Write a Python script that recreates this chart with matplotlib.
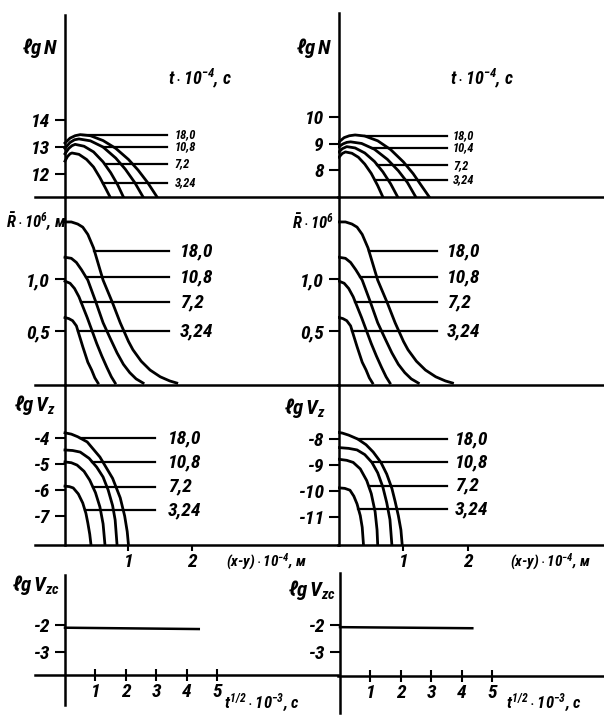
import numpy as np
import matplotlib
matplotlib.use("Agg")
import matplotlib.pyplot as plt
from matplotlib import font_manager


def pick_font(names):
    # take the first narrow family that is actually installed
    for n in names:
        try:
            font_manager.findfont(font_manager.FontProperties(family=n),
                                  fallback_to_default=False)
            return n
        except ValueError:
            continue
    return 'DejaVu Sans'


FONT = pick_font(['Liberation Sans Narrow', 'DejaVu Sans Condensed',
                  'Roboto Condensed', 'DejaVu Sans'])
plt.rcParams['font.family'] = [FONT, 'DejaVu Sans']
plt.rcParams['font.weight'] = 'bold'
plt.rcParams['font.style'] = 'italic'
plt.rcParams['mathtext.fontset'] = 'custom'
plt.rcParams['mathtext.rm'] = FONT + ':bold:italic'
plt.rcParams['mathtext.it'] = FONT + ':bold:italic'
plt.rcParams['mathtext.bf'] = FONT + ':bold:italic'

W, H = 604, 717

# time marks, t*10^-4 s
times = ["18,0", "10,8", "7,2", "3,24"]
times_nr = ["18,0", "10,4", "7,2", "3,24"]

# lg N vs (x-y)*10^-4 m
lgN_a_x = [[0, 0.08, 0.16, 0.24, 0.4, 0.6, 0.8, 1.0, 1.15, 1.3, 1.45],
           [0, 0.08, 0.15, 0.22, 0.4, 0.6, 0.8, 0.95, 1.1, 1.23],
           [0, 0.06, 0.11, 0.16, 0.3, 0.45, 0.6, 0.72, 0.83, 0.92],
           [0, 0.04, 0.08, 0.11, 0.22, 0.34, 0.45, 0.55, 0.64, 0.71]]
lgN_a_y = [[13.15, 13.33, 13.42, 13.46, 13.42, 13.24, 12.95, 12.54, 12.15, 11.69, 11.15],
           [12.95, 13.17, 13.27, 13.30, 13.23, 13.0, 12.59, 12.18, 11.68, 11.15],
           [12.75, 12.95, 13.05, 13.10, 13.03, 12.82, 12.45, 12.05, 11.6, 11.15],
           [12.48, 12.65, 12.75, 12.78, 12.73, 12.54, 12.26, 11.87, 11.47, 11.15]]
lgN_a_lead = [13.45, 13.0, 12.37, 11.67]

lgN_b_x = [[0, 0.08, 0.16, 0.25, 0.4, 0.6, 0.8, 1.0, 1.15, 1.28, 1.40],
           [0, 0.06, 0.12, 0.18, 0.35, 0.55, 0.75, 0.92, 1.06, 1.19],
           [0, 0.05, 0.12, 0.25, 0.4, 0.55, 0.68, 0.8, 0.91],
           [0, 0.05, 0.1, 0.2, 0.3, 0.4, 0.5, 0.6, 0.68]]
lgN_b_y = [[9.08, 9.24, 9.31, 9.34, 9.30, 9.12, 8.79, 8.32, 7.88, 7.42, 7.0],
           [8.9, 9.0, 9.06, 9.08, 9.02, 8.80, 8.42, 7.99, 7.55, 7.0],
           [8.7, 8.82, 8.9, 8.85, 8.66, 8.34, 7.95, 7.5, 7.0],
           [8.5, 8.64, 8.7, 8.65, 8.5, 8.24, 7.89, 7.43, 7.0]]
lgN_b_lead = [9.3, 8.85, 8.2, 7.64]

# mean radius R*10^6 m
R_a_x = [[0, 0.1, 0.2, 0.28, 0.36, 0.45, 0.6, 0.75, 0.87, 1.0, 1.07, 1.2, 1.34, 1.5, 1.65, 1.76],
         [0, 0.1, 0.18, 0.26, 0.36, 0.48, 0.6, 0.72, 0.82, 0.92, 1.02, 1.12, 1.23],
         [0, 0.08, 0.15, 0.22, 0.35, 0.5, 0.58, 0.66, 0.73, 0.79],
         [0, 0.06, 0.12, 0.18, 0.28, 0.36, 0.42, 0.47, 0.52]]
R_a_y = [[1.55, 1.55, 1.53, 1.5, 1.43, 1.3, 0.99, 0.77, 0.58, 0.40, 0.32, 0.21, 0.125, 0.06, 0.02, 0.0],
         [1.21, 1.2, 1.16, 1.09, 0.99, 0.79, 0.58, 0.42, 0.29, 0.18, 0.1, 0.04, 0.0],
         [0.98, 0.96, 0.91, 0.83, 0.63, 0.38, 0.26, 0.15, 0.06, 0.0],
         [0.63, 0.62, 0.6, 0.55, 0.35, 0.2, 0.125, 0.05, 0.0]]
R_a_lead = [1.27, 1.02, 0.78, 0.5]

R_b_x = [[0, 0.1, 0.2, 0.28, 0.36, 0.45, 0.6, 0.75, 0.87, 1.0, 1.07, 1.2, 1.34, 1.5, 1.65, 1.76],
         [0, 0.1, 0.18, 0.26, 0.36, 0.48, 0.6, 0.72, 0.82, 0.92, 1.02, 1.12, 1.23],
         [0, 0.08, 0.15, 0.22, 0.35, 0.5, 0.58, 0.66, 0.73, 0.79],
         [0, 0.06, 0.12, 0.18, 0.28, 0.36, 0.42, 0.47, 0.52]]
R_b_y = [[1.55, 1.55, 1.53, 1.5, 1.43, 1.3, 0.99, 0.77, 0.58, 0.40, 0.32, 0.21, 0.125, 0.06, 0.02, 0.0],
         [1.21, 1.2, 1.16, 1.09, 0.99, 0.79, 0.58, 0.42, 0.29, 0.18, 0.1, 0.04, 0.0],
         [0.98, 0.96, 0.91, 0.83, 0.63, 0.38, 0.26, 0.15, 0.06, 0.0],
         [0.63, 0.62, 0.6, 0.55, 0.35, 0.2, 0.125, 0.05, 0.0]]
R_b_lead = [1.27, 1.02, 0.78, 0.5]

# lg V_z
Vz_a_x = [[0, 0.1, 0.2, 0.35, 0.55, 0.75, 0.87, 0.94, 0.98, 1.0],
          [0, 0.12, 0.24, 0.38, 0.5, 0.6, 0.68, 0.75, 0.79, 0.82],
          [0, 0.1, 0.19, 0.3, 0.39, 0.48, 0.55, 0.6, 0.63],
          [0, 0.07, 0.13, 0.21, 0.28, 0.33, 0.36, 0.39, 0.41]]
Vz_a_y = [[-3.8, -3.85, -3.95, -4.15, -4.73, -5.55, -6.3, -7.0, -7.6, -8.115],
          [-4.46, -4.48, -4.54, -4.78, -5.12, -5.5, -6.0, -6.6, -7.15, -8.115],
          [-4.92, -4.95, -5.04, -5.28, -5.62, -6.1, -6.65, -7.3, -8.115],
          [-5.85, -5.87, -5.92, -6.15, -6.5, -6.9, -7.27, -7.7, -8.115]]
Vz_a_lead = [-4.0, -4.92, -5.88, -6.77]

Vz_b_x = [[0, 0.05, 0.15, 0.29, 0.42, 0.53, 0.65, 0.74, 0.82, 0.87, 0.92, 0.96, 0.98],
          [0, 0.15, 0.28, 0.4, 0.51, 0.6, 0.68, 0.74, 0.79, 0.82],
          [0, 0.12, 0.22, 0.33, 0.43, 0.5, 0.56, 0.59, 0.6],
          [0, 0.09, 0.17, 0.23, 0.28, 0.33, 0.36, 0.38]]
Vz_b_y = [[-7.75, -7.77, -7.85, -8.0, -8.22, -8.5, -8.9, -9.35, -9.9, -10.4, -10.95, -11.5, -12.08],
          [-8.33, -8.36, -8.42, -8.6, -8.9, -9.3, -9.85, -10.45, -11.1, -12.08],
          [-8.78, -8.82, -8.9, -9.15, -9.6, -10.1, -10.8, -11.5, -12.08],
          [-9.88, -9.9, -9.97, -10.2, -10.5, -10.95, -11.4, -12.08]]
Vz_b_lead = [-8.0, -8.9, -9.8, -10.7]

# lg V_zc vs t^1/2 * 10^-3
tsq_a = [0, 4.4]
Vzc_a = [-2.1, -2.15]
tsq_b = [0, 4.35]
Vzc_b = [-2.08, -2.12]

fig = plt.figure(figsize=(W / 100, H / 100), dpi=100)


def add_axes(x0, y0, x1, y1, xlim, ylim, xaxis_at=None):
    ax = fig.add_axes([x0 / W, 1 - y1 / H, (x1 - x0) / W, (y1 - y0) / H])
    ax.set_xlim(*xlim)
    ax.set_ylim(*ylim)
    for s in ('top', 'right'):
        ax.spines[s].set_visible(False)
    ax.spines['left'].set_position(('data', 0))
    if xaxis_at is not None:
        ax.spines['bottom'].set_position(('data', xaxis_at))
    for s in ('left', 'bottom'):
        ax.spines[s].set_linewidth(1.8)
    ax.patch.set_visible(False)
    ax.set_xticks([])
    ax.tick_params(axis='y', direction='out', length=7, width=1.5,
                   labelsize=14, pad=4)
    return ax


def draw_curves(ax, xs, ys, leads, lead_end, label_x, labels, fs=14):
    for cx, cy, lv, lab in zip(xs, ys, leads, labels):
        cx = np.asarray(cx)
        cy = np.asarray(cy)
        ax.plot(cx, cy, color='k', lw=2.0, solid_joinstyle='round')
        k = int(np.argmax(cy))
        dx, dy = cx[k:], cy[k:]
        if lv >= dy[0]:
            x_start = dx[0]
        else:
            x_start = np.interp(lv, dy[::-1], dx[::-1])
        ax.plot([x_start, lead_end], [lv, lv], color='k', lw=1.6)
        ax.text(label_x, lv, lab, fontsize=fs, va='center', ha='left')


def ylabels(ax, ticks, labels):
    ax.set_yticks(ticks)
    ax.set_yticklabels(labels)


def xlabels(ax, ticks, labels, direction, length):
    ax.set_xticks(ticks)
    ax.set_xticklabels(labels)
    ax.tick_params(axis='x', direction=direction, length=length, width=1.5,
                   labelsize=14, pad=2)


def label(x, y, s, size=14):
    fig.text(x / W, 1 - y / H, s, fontsize=size, va='center', ha='left')


# row 1: lg N
ax = add_axes(35, 15, 338, 197, (-0.472, 4.299), (11.15, 17.89))
ylabels(ax, [12, 13, 14], ["12", "13", "14"])
draw_curves(ax, lgN_a_x, lgN_a_y, lgN_a_lead, 1.61, 1.73, times, fs=9)
ax = add_axes(338, 13, 604, 197, (-0.0155, 4.109), (7.0, 13.94))
ylabels(ax, [8, 9, 10], ["8", "9", "10"])
draw_curves(ax, lgN_b_x, lgN_b_y, lgN_b_lead, 1.67, 1.77, times_nr, fs=9)

# row 2: R
ax = add_axes(35, 197, 338, 385, (-0.472, 4.299), (-0.019, 1.79))
ylabels(ax, [0.5, 1.0], ["0,5", "1,0"])
draw_curves(ax, R_a_x, R_a_y, R_a_lead, 1.64, 1.81, times)
ax = add_axes(338, 197, 604, 385, (-0.0155, 4.109), (-0.019, 1.79))
ylabels(ax, [0.5, 1.0], ["0,5", "1,0"])
draw_curves(ax, R_b_x, R_b_y, R_b_lead, 1.52, 1.67, times)

# row 3: lg V_z
ax = add_axes(35, 385, 338, 545, (-0.472, 4.299), (-8.115, -1.96))
ylabels(ax, [-7, -6, -5, -4], ["-7", "-6", "-5", "-4"])
draw_curves(ax, Vz_a_x, Vz_a_y, Vz_a_lead, 1.42, 1.62, times)
xlabels(ax, [1, 2], ["1", "2"], 'out', 4)
ax = add_axes(338, 385, 604, 545, (-0.0155, 4.109), (-12.08, -5.92))
ylabels(ax, [-11, -10, -9, -8], ["-11", "-10", "-9", "-8"])
draw_curves(ax, Vz_b_x, Vz_b_y, Vz_b_lead, 1.67, 1.8, times)
xlabels(ax, [1, 2], ["1", "2"], 'out', 4)

# row 4: lg V_zc
ax = add_axes(35, 575, 338, 705, (-0.987, 8.98), (-4.96, -0.15), xaxis_at=-3.85)
ylabels(ax, [-3, -2], ["-3", "-2"])
ax.plot(tsq_a, Vzc_a, color='k', lw=1.8)
xlabels(ax, [1, 2, 3, 4, 5], ["1", "2", "3", "4", "5"], 'inout', 8)
ax = add_axes(338, 573, 604, 713, (-0.066, 8.68), (-5.26, -0.074), xaxis_at=-3.89)
ylabels(ax, [-3, -2], ["-3", "-2"])
ax.plot(tsq_b, Vzc_b, color='k', lw=1.8)
xlabels(ax, [1, 2, 3, 4, 5], ["1", "2", "3", "4", "5"], 'inout', 8)

# axis captions
label(22, 48, r"$\ell g\,N$", 15)
label(296, 48, r"$\ell g\,N$", 15)
label(168, 78, r"$t\cdot10^{-4}$, с", 13)
label(450, 78, r"$t\cdot10^{-4}$, с", 13)
label(6, 222, r"$\bar{R}\cdot10^{6}$, м", 12)
label(292, 222, r"$\bar{R}\cdot10^{6}$", 12)
label(14, 405, r"$\ell g\,V_z$", 15)
label(284, 408, r"$\ell g\,V_z$", 15)
label(226, 562, r"$(x$-$y)\cdot10^{-4}$, м", 11)
label(510, 562, r"$(x$-$y)\cdot10^{-4}$, м", 11)
label(12, 585, r"$\ell g\,V_{zc}$", 15)
label(288, 590, r"$\ell g\,V_{zc}$", 15)
label(224, 702, r"$t^{1/2}\cdot10^{-3}$, с", 12)
label(506, 702, r"$t^{1/2}\cdot10^{-3}$, с", 12)

fig.savefig("out.png", dpi=100, facecolor='white')
